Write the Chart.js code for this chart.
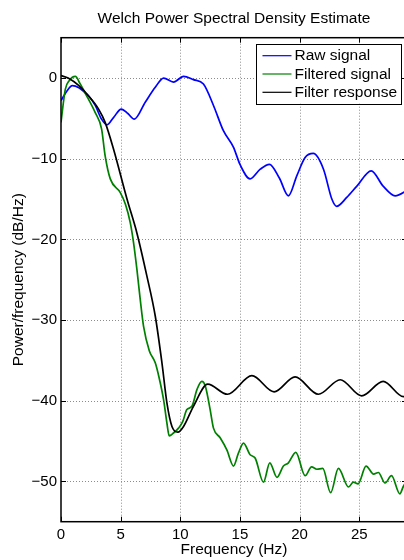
<!DOCTYPE html>
<html>
<head>
<meta charset="utf-8">
<script src="https://cdn.jsdelivr.net/npm/chart.js@4.4.1/dist/chart.umd.min.js"></script>
<style>
  html, body { margin: 0; padding: 0; background: #fff; overflow: hidden; }
  #wrap { width: 412px; height: 560px; }
</style>
</head>
<body>
<div id="wrap"><canvas id="psdChart" width="412" height="560"></canvas></div>
<script>
// Welch PSD estimates: frequency (Hz) and power (dB/Hz)
const rawFreq = [0, 0.5, 0.95, 1.5, 2.0, 2.3, 2.87, 3.4, 3.85, 4.4, 5.05, 5.6, 6.14, 7.06, 7.9, 8.6, 9.43, 10.27,
  11.1, 11.94, 12.78, 13.6, 14.46, 15.0, 15.85, 16.7, 17.47, 18.3, 19.06, 19.77, 20.46, 21.15, 22.0, 22.7, 23.1,
  23.95, 24.8, 26.0, 27.0, 28.0, 28.7, 29.0];
const rawPsd = [-2.8, -1.6, -0.95, -1.2, -1.8, -2.2, -3.4, -5.1, -5.8, -4.9, -3.85, -4.4, -5.1, -3.0, -1.15, 0.0, -0.5, 0.2,
  -0.2, -0.75, -3.4, -6.5, -8.6, -10.7, -12.5, -11.3, -10.7, -12.4, -14.6, -12.1, -9.85, -9.35, -11.3, -15.0, -15.9,
  -14.8, -13.4, -11.5, -13.4, -14.6, -14.2, -13.8];

const filtFreq = [0, 0.36, 0.7, 1.2, 1.6, 2.0, 2.87, 3.4, 3.7, 4.13, 4.97, 5.4, 5.8, 6.08, 6.36, 6.64, 6.92, 7.4, 7.9,
  8.2, 8.6, 8.88, 9.07, 9.43, 9.85, 10.2, 10.55, 10.97, 11.4, 11.8, 12.1, 12.5, 12.78, 13.34, 13.9, 14.46, 14.87, 15.3,
  15.85, 16.27, 16.97, 17.5, 18.1, 18.64, 19.06, 19.68, 20.46, 21.0, 21.44, 21.94, 22.6, 23.25, 24.1, 24.5, 24.9,
  25.57, 26.2, 26.6, 27.16, 27.7, 28.4, 28.7, 29.0];
const filtPsd = [-5.5, -1.4, -0.3, 0.2, -0.7, -1.8, -4.3, -6.3, -9.65, -12.5, -14.2, -15.65, -17.9, -20.4, -23.7, -27.45,
  -30.8, -33.8, -35.3, -37.0, -39.9, -42.8, -44.35, -44.0, -43.4, -42.6, -41.1, -40.7, -38.6, -37.6, -38.2, -41.1,
  -43.4, -44.6, -46.1, -48.1, -46.5, -45.25, -46.7, -47.1, -50.1, -47.7, -49.5, -48.1, -47.7, -46.4, -49.3, -48.2,
  -48.5, -48.4, -51.4, -48.4, -50.7, -50.1, -50.3, -48.1, -49.1, -48.9, -50.2, -49.3, -51.55, -50.6, -50.0];

const respFreq = [0, 0.6, 1.5, 2.3, 3.15, 3.7, 4.4, 5.53, 6.36, 7.2, 7.9, 8.46, 8.88, 9.3, 9.8, 10.27, 11.1, 12.3,
  13.95, 16.0, 17.86, 19.62, 21.57, 23.4, 25.2, 27.0, 28.7, 29.0];
const respPsd = [0.3, 0.0, -0.95, -2.2, -3.85, -5.5, -8.8, -15.0, -19.2, -24.55, -29.5, -35.3, -40.3, -43.2, -43.9,
  -43.2, -40.7, -37.95, -39.2, -36.9, -38.9, -37.05, -39.2, -37.4, -39.4, -37.6, -39.5, -39.3];

const xTicks = [0, 5, 10, 15, 20, 25];
const yTicks = [-50, -40, -30, -20, -10, 0];
const seriesNames = ['Raw signal', 'Filtered signal', 'Filter response'];
const seriesColors = ['#0000ff', '#008000', '#000000'];

const FONT = '"Liberation Sans", Arial, Helvetica, sans-serif';

function toPoints(freq, psd) {
  return freq.map((f, i) => ({ x: f, y: psd[i] }));
}

function strokeLine(ctx, x1, y1, x2, y2) {
  ctx.beginPath();
  ctx.moveTo(x1, y1);
  ctx.lineTo(x2, y2);
  ctx.stroke();
}

// MATLAB-style axes: dotted grid, boxed axes with inward ticks, inset legend
const matlabAxes = {
  id: 'matlabAxes',
  beforeDatasetsDraw(chart) {
    const { ctx, chartArea: a, scales: { x, y } } = chart;
    ctx.save();
    ctx.strokeStyle = '#8c8c8c';
    ctx.lineWidth = 1;
    ctx.setLineDash([1, 2]);
    xTicks.forEach(v => {
      if (v === 0) return;
      const px = Math.round(x.getPixelForValue(v)) + 0.5;
      strokeLine(ctx, px, a.top, px, a.bottom);
    });
    yTicks.forEach(v => {
      const py = Math.round(y.getPixelForValue(v)) + 0.5;
      strokeLine(ctx, a.left, py, a.right, py);
    });
    ctx.restore();
  },
  afterDatasetsDraw(chart) {
    const { ctx, chartArea: a, scales: { x, y } } = chart;
    ctx.save();
    ctx.strokeStyle = '#000';
    ctx.lineWidth = 1.5;
    ctx.strokeRect(a.left, a.top, a.right - a.left, a.bottom - a.top);

    ctx.lineWidth = 1;
    const tl = 5;
    xTicks.forEach(v => {
      const px = Math.round(x.getPixelForValue(v)) + 0.5;
      strokeLine(ctx, px, a.bottom, px, a.bottom - tl);
      strokeLine(ctx, px, a.top, px, a.top + tl);
    });
    yTicks.forEach(v => {
      const py = Math.round(y.getPixelForValue(v)) + 0.5;
      strokeLine(ctx, a.left, py, a.left + tl, py);
      strokeLine(ctx, a.right, py, a.right - tl, py);
    });

    // legend
    ctx.font = '15.5px ' + FONT;
    const textW = Math.max(...seriesNames.map(n => ctx.measureText(n).width));
    const boxW = 6.5 + 29 + 3 + textW + 4;
    const boxH = 59.5;
    const right = a.right - 6;
    const left = right - boxW;
    const top = a.top + 6;
    ctx.fillStyle = '#fff';
    ctx.fillRect(left, top, boxW, boxH);
    ctx.strokeStyle = '#000';
    ctx.lineWidth = 1;
    ctx.strokeRect(Math.round(left) + 0.5, Math.round(top) + 0.5, Math.round(boxW), Math.round(boxH));
    ctx.textBaseline = 'middle';
    ctx.textAlign = 'left';
    seriesNames.forEach((name, i) => {
      const cy = top + 11.5 + i * 18.3;
      ctx.strokeStyle = seriesColors[i];
      ctx.lineWidth = 1.2;
      strokeLine(ctx, left + 6.5, cy + 0.5, left + 35.5, cy + 0.5);
      ctx.fillStyle = '#000';
      ctx.fillText(name, left + 38.5, cy + 1);
    });
    ctx.restore();
  },
  afterDraw(chart) {
    const { ctx, chartArea: a } = chart;
    ctx.save();
    ctx.font = '15.5px ' + FONT;
    ctx.fillStyle = '#000';
    ctx.textAlign = 'center';
    ctx.textBaseline = 'middle';
    ctx.fillText('Welch Power Spectral Density Estimate', (a.left + a.right) / 2, 19);
    ctx.restore();
  }
};

function makeSet(i, freq, psd, order) {
  return {
    label: seriesNames[i],
    data: toPoints(freq, psd),
    borderColor: seriesColors[i],
    backgroundColor: seriesColors[i],
    borderWidth: 1.7,
    pointRadius: 0,
    cubicInterpolationMode: 'monotone',
    fill: false,
    order: order
  };
}

new Chart(document.getElementById('psdChart'), {
  type: 'line',
  data: {
    datasets: [
      makeSet(0, rawFreq, rawPsd, 3),
      makeSet(1, filtFreq, filtPsd, 2),
      makeSet(2, respFreq, respPsd, 1)
    ]
  },
  options: {
    responsive: false,
    animation: false,
    events: [],
    layout: { padding: { top: 37.7, right: 5, left: 0, bottom: 0 } },
    plugins: {
      legend: { display: false },
      title: { display: false },
      tooltip: { enabled: false }
    },
    scales: {
      x: {
        type: 'linear',
        min: 0,
        max: 29,
        grid: { display: false, drawTicks: false },
        border: { display: false },
        afterBuildTicks: s => { s.ticks = xTicks.map(v => ({ value: v })); },
        afterFit: s => { s.height = 38.3; },
        ticks: {
          color: '#000',
          padding: 4,
          maxRotation: 0,
          font: { family: FONT, size: 15 },
          callback: v => String(v)
        },
        title: {
          display: true,
          text: 'Frequency (Hz)',
          color: '#000',
          font: { family: FONT, size: 15.5 },
          padding: { top: 0, bottom: 1 }
        }
      },
      y: {
        type: 'linear',
        min: -55,
        max: 5,
        grid: { display: false, drawTicks: false },
        border: { display: false },
        afterBuildTicks: s => { s.ticks = yTicks.map(v => ({ value: v })); },
        afterFit: s => { s.width = 61; },
        ticks: {
          color: '#000',
          padding: 4,
          font: { family: FONT, size: 15 },
          callback: v => (v < 0 ? '\u2212' + Math.abs(v) : String(v))
        },
        title: {
          display: true,
          text: 'Power/frequency (dB/Hz)',
          color: '#000',
          font: { family: FONT, size: 15.5 },
          padding: { top: 9, bottom: 0 }
        }
      }
    }
  },
  plugins: [matlabAxes]
});
</script>
</body>
</html>
